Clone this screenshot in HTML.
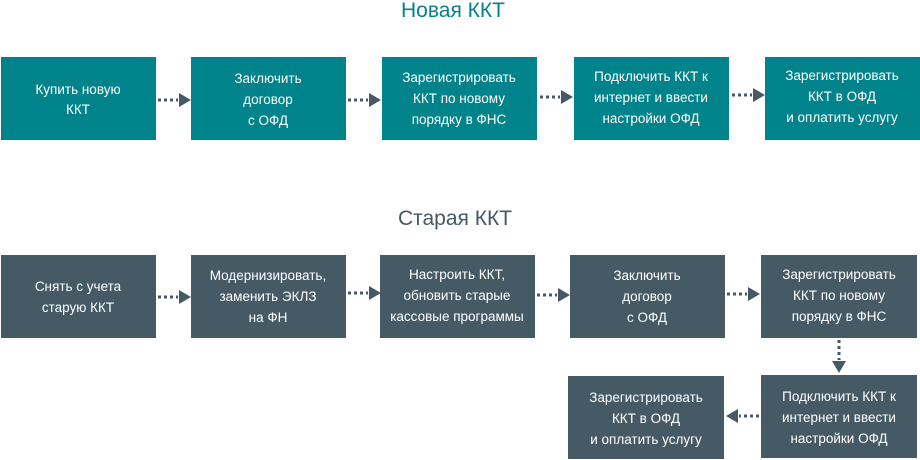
<!DOCTYPE html>
<html><head><meta charset="utf-8"><style>
body{margin:0;width:920px;height:460px;background:#fff;overflow:hidden}
svg{display:block}
text{font-family:"Liberation Sans",sans-serif;fill:#fff;font-size:13.5px;text-anchor:middle}
.t{font-size:21px}
</style></head><body>
<svg width="920" height="460" xmlns="http://www.w3.org/2000/svg">
<defs>
<g id="ar"><line x1="0" y1="0" x2="20" y2="0" stroke="#455a64" stroke-width="3" stroke-dasharray="3,3"/><polygon points="21,-7 33,0 21,7" fill="#455a64"/></g>
</defs>
<text class="t" x="453" y="17" style="fill:#00838a">Новая ККТ</text>
<g fill="#00838a">
<rect x="1" y="57" width="155" height="83"/>
<rect x="191" y="57" width="155" height="83"/>
<rect x="382" y="57" width="155" height="83"/>
<rect x="574" y="57" width="155" height="83"/>
<rect x="765" y="57" width="155" height="83"/>
</g>
<use href="#ar" x="158" y="100"/><use href="#ar" x="348" y="100"/><use href="#ar" x="540" y="97"/><use href="#ar" x="732" y="95"/>
<text x="78" y="94">Купить новую</text><text x="78" y="114">ККТ</text>
<text x="268" y="83">Заключить</text><text x="268" y="104">договор</text><text x="268" y="125">с ОФД</text>
<text x="459" y="82">Зарегистрировать</text><text x="459" y="103">ККТ по новому</text><text x="459" y="124">порядку в ФНС</text>
<text x="651" y="81">Подключить ККТ к</text><text x="651" y="102">интернет и ввести</text><text x="651" y="123">настройки ОФД</text>
<text x="842" y="80">Зарегистрировать</text><text x="842" y="101">ККТ в ОФД</text><text x="842" y="122">и оплатить услугу</text>

<text class="t" x="455" y="225" style="fill:#455a64">Старая ККТ</text>
<g fill="#455a64">
<rect x="1" y="255" width="155" height="83"/>
<rect x="191" y="255" width="155" height="83"/>
<rect x="380" y="255" width="155" height="83"/>
<rect x="570" y="255" width="155" height="83"/>
<rect x="761" y="255" width="156" height="83"/>
<rect x="568" y="376" width="156" height="83"/>
<rect x="761" y="375" width="156" height="83"/>
</g>
<use href="#ar" x="158" y="297"/><use href="#ar" x="348" y="293"/><use href="#ar" x="537" y="295"/><use href="#ar" x="727" y="294"/>
<g transform="translate(839,340) rotate(90)"><use href="#ar" x="0" y="0"/></g>
<g transform="translate(759,416) rotate(180)"><use href="#ar" x="0" y="0"/></g>
<text x="78" y="291">Снять с учета</text><text x="78" y="312">старую ККТ</text>
<text x="268" y="280">Модернизировать,</text><text x="268" y="301">заменить ЭКЛЗ</text><text x="268" y="322">на ФН</text>
<text x="457" y="279">Настроить ККТ,</text><text x="457" y="300">обновить старые</text><text x="457" y="321">кассовые программы</text>
<text x="647" y="280">Заключить</text><text x="647" y="301">договор</text><text x="647" y="322">с ОФД</text>
<text x="839" y="279">Зарегистрировать</text><text x="839" y="300">ККТ по новому</text><text x="839" y="321">порядку в ФНС</text>
<text x="839" y="401">Подключить ККТ к</text><text x="839" y="422">интернет и ввести</text><text x="839" y="443">настройки ОФД</text>
<text x="646" y="402">Зарегистрировать</text><text x="646" y="423">ККТ в ОФД</text><text x="646" y="444">и оплатить услугу</text>
</svg>
</body></html>
